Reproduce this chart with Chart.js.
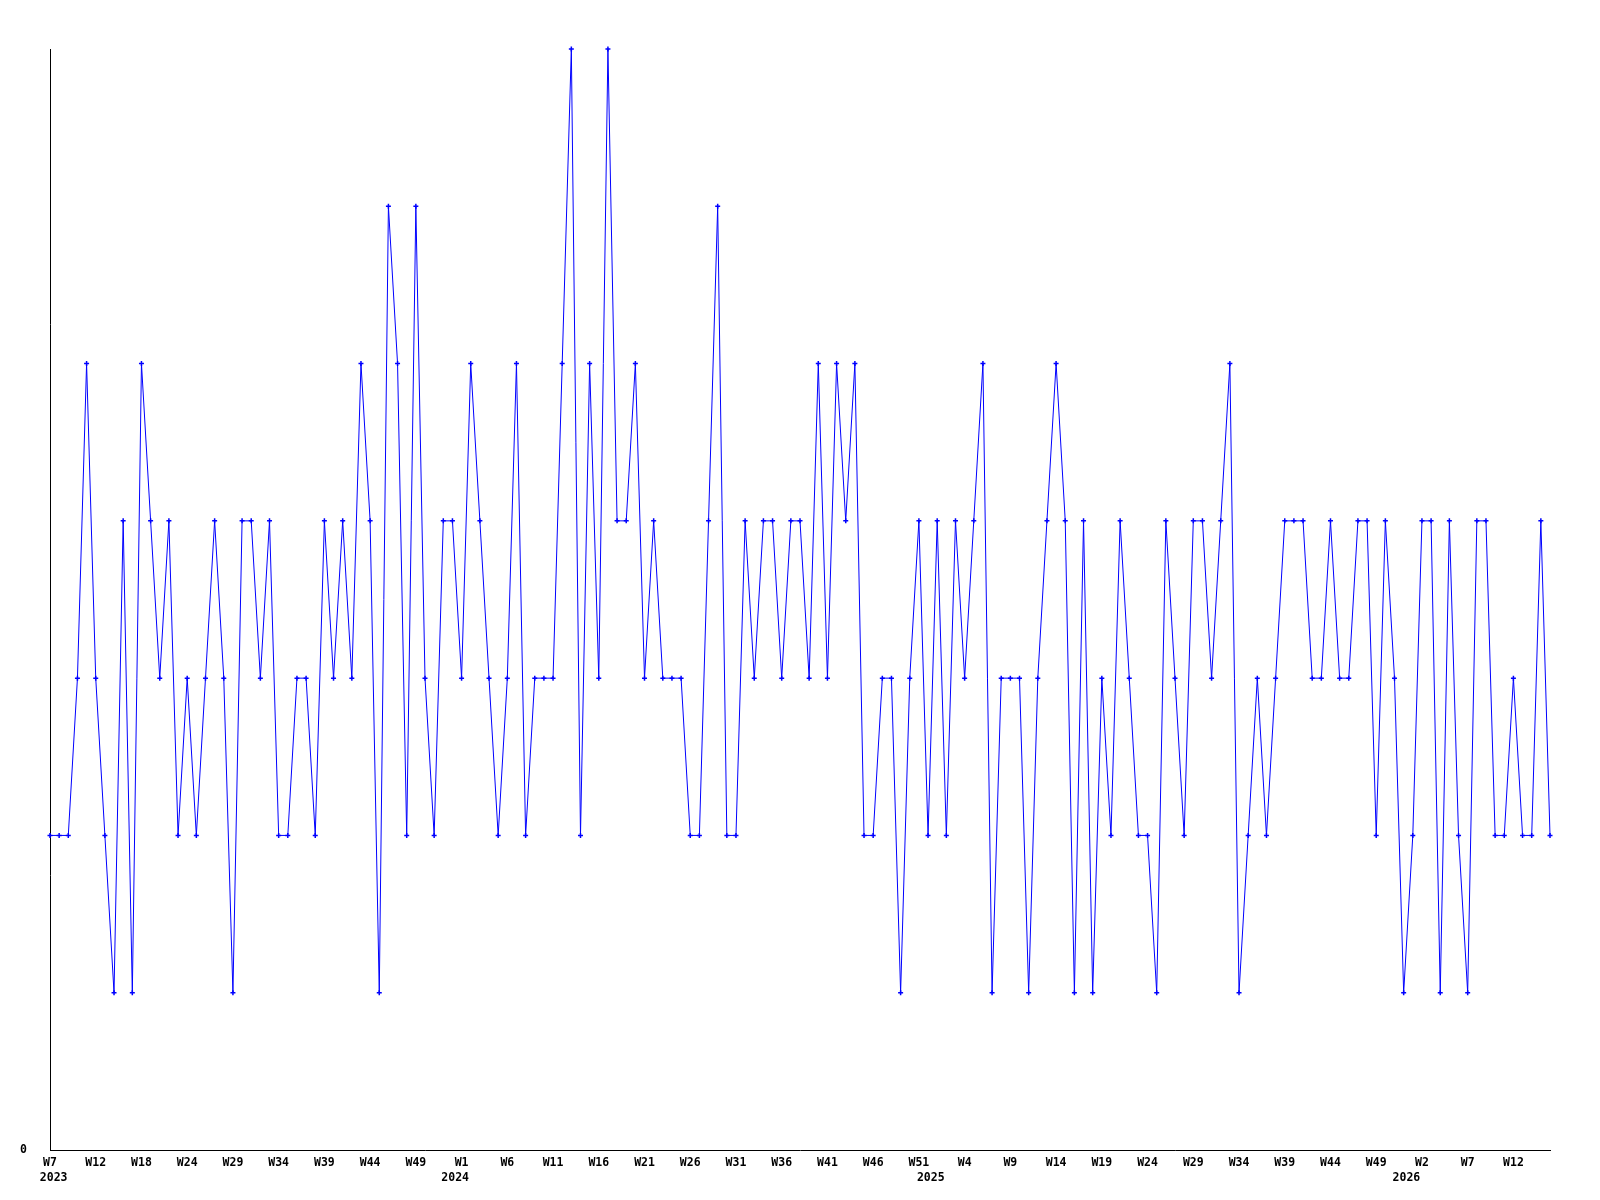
<!DOCTYPE html>
<html><head><meta charset="utf-8">
<script src="https://cdn.jsdelivr.net/npm/chart.js@4.4.0/dist/chart.umd.min.js"></script>
<style>html,body{margin:0;padding:0;background:#fff;}canvas{display:block;}</style>
</head><body>
<canvas id="c" width="1600" height="1200"></canvas>
<script>
// ISO week spans covered by the series: [year, first week, last week]
const weekSpans = [[2023, 7, 52], [2024, 1, 52], [2025, 1, 52], [2026, 1, 15]];

// weekly values, one per category
const values = [
  2,2,2,3,5,3,2,1,4,1,5,4,3,4,2,3,2,3,4,3,1,
  4,4,3,4,2,2,3,3,2,4,3,4,3,5,4,1,6,5,2,6,
  3,2,4,4,3,5,4,3,2,3,5,2,3,3,3,5,7,2,5,3,
  7,4,4,5,3,4,3,3,3,2,2,4,6,2,2,4,3,4,4,3,
  4,4,3,5,3,5,4,5,2,2,3,3,1,3,4,2,4,2,4,3,
  4,5,1,3,3,3,1,3,4,5,4,1,4,1,3,2,4,3,2,2,1,
  4,3,2,4,4,3,4,5,1,2,3,2,3,4,4,4,3,3,4,3,
  3,4,4,2,4,3,1,2,4,4,1,4,2,1,4,4,2,2,3,2,2,4,2
];

// x tick labels (one every 5th point)
const tickLabels = ["W7","W12","W18","W24","W29","W34","W39","W44","W49","W1","W6","W11","W16",
  "W21","W26","W31","W36","W41","W46","W51","W4","W9","W14","W19","W24","W29","W34","W39",
  "W44","W49","W2","W7","W12"];
const yearLabels = ["2023","2024","2025","2026"];

const categories = [];
weekSpans.forEach(([y, a, b]) => { for (let w = a; w <= b; w++) categories.push(y + "-W" + w); });

// layout: where the year captions sit along the week axis
const yearTickPos = [0.4, 44.3, 96.3, 148.3];

const axisFont = { family: "DejaVu Sans Mono", weight: "bold", size: 11.5 };

new Chart(document.getElementById("c").getContext("2d"), {
  type: "line",
  data: {
    labels: categories,
    datasets: [{
      data: values,
      borderColor: "#0000ff",
      borderWidth: 1,
      tension: 0,
      fill: false,
      clip: false,
      pointStyle: "cross",
      pointRadius: 2.5,
      pointBorderWidth: 1.5,
      pointBorderColor: "#0000ff",
      pointBackgroundColor: "#0000ff"
    }]
  },
  options: {
    responsive: false,
    animation: false,
    devicePixelRatio: 1,
    layout: { padding: { top: 49, right: 50, left: 0, bottom: 0 } },
    plugins: { legend: { display: false }, tooltip: { enabled: false } },
    scales: {
      x: {
        type: "category",
        offset: false,
        grid: { display: false, drawTicks: false },
        border: { display: true, color: "#000", width: 1 },
        ticks: {
          autoSkip: false, maxRotation: 0, minRotation: 0,
          padding: 6, labelOffset: 0, color: "#000", font: axisFont,
          callback: (v, i) => (i % 5 === 0 && tickLabels[i / 5] !== undefined) ? tickLabels[i / 5] : null
        },
        afterFit: s => { s.height = 20; }
      },
      x2: {
        type: "linear",
        position: "bottom",
        min: 0,
        max: values.length - 1,
        grid: { display: false, drawTicks: false },
        border: { display: false },
        afterBuildTicks: s => { s.ticks = yearTickPos.map(v => ({ value: v })); },
        ticks: {
          autoSkip: false, maxRotation: 0, minRotation: 0,
          padding: 1, color: "#000", font: axisFont,
          callback: (v, i) => yearLabels[i]
        },
        afterFit: s => { s.height = 30; }
      },
      y: {
        min: 0, max: 7,
        grid: { display: false, drawTicks: false },
        border: { display: true, color: "#000", width: 1 },
        ticks: {
          stepSize: 1, padding: 23, color: "#000", font: axisFont,
          callback: v => v === 0 ? "0" : null
        },
        afterFit: s => { s.width = 50; }
      }
    }
  }
});
</script>
</body></html>
